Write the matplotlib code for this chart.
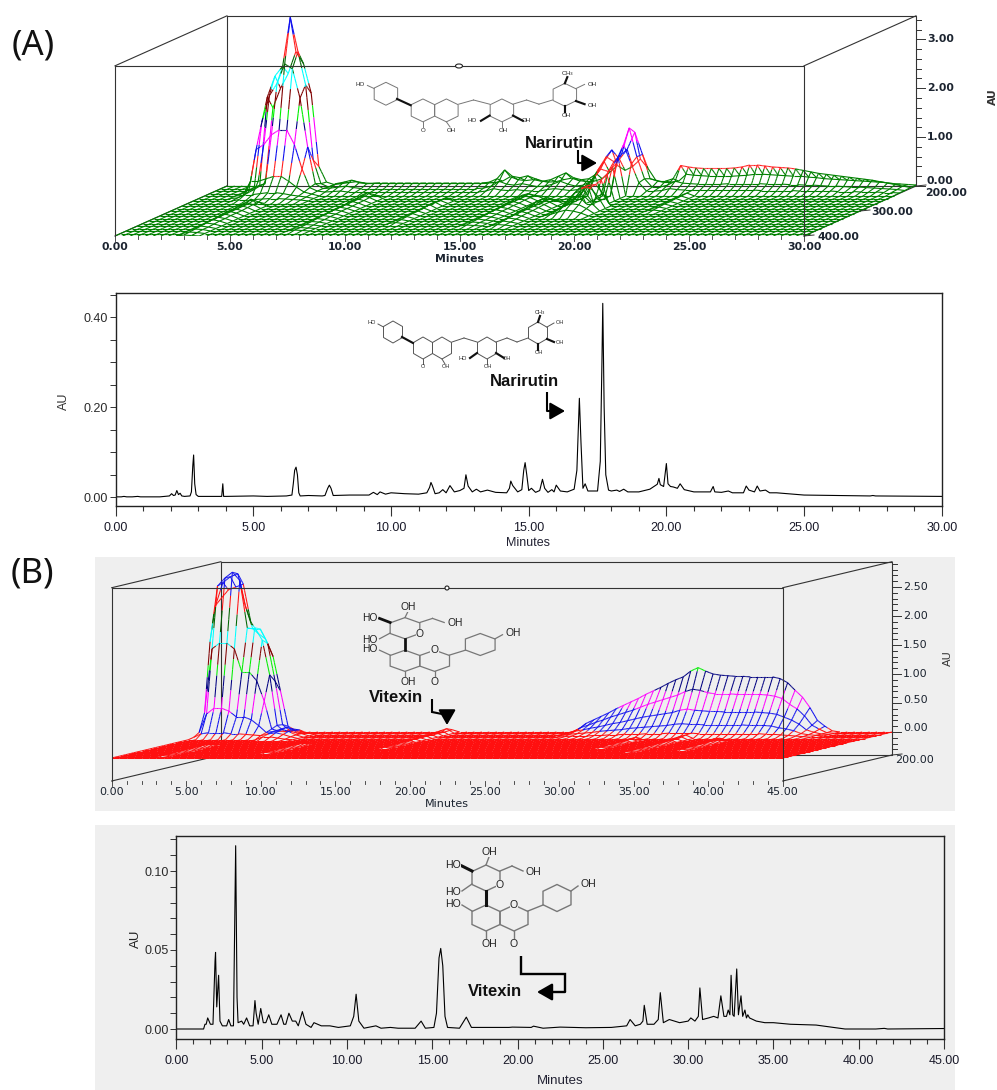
import numpy as np
import matplotlib
matplotlib.use('Agg')
import matplotlib.pyplot as plt
from matplotlib.collections import LineCollection
from matplotlib.patches import Rectangle, Ellipse, Polygon
from matplotlib.ticker import MultipleLocator, FixedLocator, FuncFormatter

W, H = 997, 1090

# chromatogram (A), minutes / AU
a_time = [0, .2, .3, .4, .6, .8, .9, 1.0, 1.6, 1.95, 2.03, 2.1, 2.16, 2.22, 2.28, 2.34, 2.4, 2.5, 2.7, 2.75, 2.8, 2.83,
          2.87, 2.92, 3.0, 3.85, 3.89, 3.92, 4.0, 5.0, 5.5, 6.2, 6.4, 6.45, 6.5, 6.55, 6.6, 6.65, 6.7, 7.0, 7.5, 7.6, 7.7,
          7.76, 7.82, 7.9, 8.5, 9.2, 9.36, 9.5, 9.6, 9.8, 10.0, 10.5, 11.0, 11.3, 11.4, 11.45, 11.5, 11.6, 11.75, 11.88, 12.0,
          12.14, 12.3, 12.5, 12.65, 12.72, 12.8, 12.95, 13.1, 13.25, 13.5, 13.8, 14.2, 14.3, 14.35, 14.42, 14.6, 14.75, 14.82,
          14.87, 14.93, 15.0, 15.1, 15.25, 15.4, 15.5, 15.58, 15.7, 15.84, 15.92, 16.0, 16.15, 16.4, 16.65, 16.75, 16.84, 16.9,
          16.97, 17.05, 17.15, 17.5, 17.6, 17.66, 17.69, 17.74, 17.8, 17.9, 18.0, 18.2, 18.3, 18.45, 18.6, 19.0, 19.4, 19.67, 19.73,
          19.78, 19.9, 20.0, 20.06, 20.15, 20.25, 20.4, 20.5, 20.65, 21.0, 21.6, 21.7, 21.76, 22.0, 22.25, 22.4, 22.8, 22.9, 23.0,
          23.2, 23.3, 23.4, 23.6, 23.75, 24.0, 25.0, 27.4, 27.5, 27.6, 30.0]
a_au = [.001, .001, .002, .001, .001, .002, .001, .001, .001, .003, .008, .004, .005, .015, .006, .009, .003, .002, .003, .012, .07, .094,
        .03, .006, .002, .002, .03, .002, .002, .003, .002, .003, .005, .03, .06, .067, .05, .01, .003, .004, .003, .004, .02,
        .027, .02, .004, .005, .005, .011, .006, .012, .007, .01, .008, .007, .01, .022, .033, .026, .008, .01, .017, .01,
        .026, .012, .015, .02, .05, .025, .012, .018, .012, .016, .011, .01, .02, .036, .026, .012, .017, .06,
        .077, .05, .015, .02, .011, .015, .04, .02, .011, .017, .012, .027, .014, .012, .018, .06, .22, .12,
        .02, .03, .014, .014, .08, .3, .431, .2, .05, .016, .014, .016, .013, .018, .012, .012, .018, .029, .042,
        .028, .024, .075, .03, .024, .023, .02, .03, .017, .012, .012, .024, .012, .011, .014, .01, .01, .025, .016,
        .012, .025, .014, .016, .01, .01, .005, .003, .004, .003, .002]

# chromatogram (B), minutes / AU
b_time = [0, 1.6, 1.68, 1.75, 1.84, 2.0, 2.15, 2.27, 2.3, 2.37, 2.48, 2.56, 2.7, 2.95, 3.07, 3.2, 3.35, 3.41, 3.48, 3.56, 3.62, 3.83, 3.95,
          4.12, 4.3, 4.5, 4.61, 4.68, 4.8, 4.95, 5.1, 5.25, 5.42, 5.6, 5.9, 6.14, 6.3, 6.42, 6.6, 6.8, 7.0, 7.15, 7.39, 7.6, 7.9, 8.07,
          8.5, 9.0, 9.5, 10.2, 10.4, 10.54, 10.7, 11.0, 11.7, 12.0, 12.55, 13.0, 14.0, 14.35, 14.6, 15.1, 15.25, 15.4, 15.5, 15.62,
          15.75, 15.9, 16.6, 17.0, 17.3, 18.5, 19.5, 19.7, 20.8, 20.94, 21.5, 22.5, 24.0, 25.5, 26.4, 26.6, 26.9, 27.2, 27.35, 27.43,
          27.6, 28.0, 28.25, 28.37, 28.55, 28.9, 29.5, 30.0, 30.16, 30.4, 30.6, 30.69, 30.85, 31.2, 31.5, 31.75, 31.92, 32.1, 32.25,
          32.35, 32.45, 32.52, 32.62, 32.7, 32.85, 32.95, 33.1, 33.2, 33.33, 33.42, 33.5, 33.6, 33.8, 34.0, 34.5, 35.0, 36.0, 37.5, 38.5,
          39.2, 41.0, 41.5, 41.7, 45.0]
b_au = [0, 0, .003, .003, .007, .003, .003, .043, .0485, .014, .034, .005, .002, .002, .006, .002, .002, .055, .116, .02, .004, .005, .003,
        .007, .002, .002, .018, .01, .003, .013, .004, .004, .009, .003, .003, .009, .003, .003, .01, .005, .005, .002, .011, .003, .001, .004,
        .002, .002, .001, .002, .008, .022, .005, .0005, .002, .0005, .001, .0005, .0005, .005, .0005, .001, .01, .045, .051, .04,
        .008, .001, .0005, .0075, .001, .001, .001, .0012, .001, .0018, .0005, .0012, .0008, .001, .002, .006, .002, .003, .005, .015,
        .003, .003, .006, .023, .004, .006, .004, .005, .007, .005, .008, .026, .006, .007, .008, .007, .021, .008, .008,
        .012, .009, .034, .009, .008, .038, .009, .021, .008, .012, .007, .009, .007, .006, .005, .004, .004, .003, .0025, .001,
        0, 0, .0004, 0, .0003]

# surface (A): wavelengths back to front, 90 time steps over 30 min
a_wave = [200, 210, 220, 230, 240, 250, 260, 270, 280, 290, 300, 310, 320, 330, 340, 350, 360, 370, 380, 390, 400]
a_minutes = [k / 3 for k in range(91)]
a_row0 = [0] * 14 + [.03, .05, .07, .09, .06, .05] + [.06] * 15 + [.07, .1, .19, .13, .11, .13, .1, .08, .09, .13, .16, .11, .09, .1, .15, .28, .42, .32, .4, .55, .36, .12, .08, .08, .1, .24, .22, .21,
                                                                   .2, .2, .2, .2, .21, .22, .24, .24, .23, .22, .21, .2, .2, .18, .17, .15, .14, .13, .12, .11, .1, .09, .08, .07, .05, .04, .03, .02, .02, .01]
a_row1 = [0] * 14 + [.06, .1, .13, .17, .12, .1] + [.11] * 15 + [.13, .2, .38, .25, .22, .26, .2, .15, .18, .25, .32, .22, .18, .2, .3, .55, .79, .6, .8, 1.15, .7, .2, .15, .15, .2, .47, .44, .42,
                                                                 .41, .41, .41, .41, .42, .44, .48, .48, .46, .44, .43, .42, .4, .37, .34, .31, .29, .27, .25, .23, .21, .19, .17, .14, .11, .08, .05, .02]
a_row2 = [0] * 14 + [.04, .06, .08, .1, .07, .05] + [.05] * 15 + [.06, .1, .2, .14, .12, .15, .12, .09, .1, .14, .2, .14, .1, .12, .2, .45, .7, .6, .75, 1.29, .7, .25, .08, .08, .12, .2, .16, .15,
                                                                  .14, .14, .14, .14, .15, .15, .15, .15, .15, .14, .14, .14, .13, .13, .12, .12, .11, .1, .1, .09, .08, .08, .07, .06, .05, .04, .03, .01]
a_row3 = [0] * 14 + [.02, .03, .04, .05, .03, .03] + [.03] * 15 + [.03, .05, .1, .07, .06, .08, .06, .05, .05, .08, .1, .08, .06, .08, .15, .3, .5, .45, .6, 1.0, .6, .22, .05, .05, .06, .1, .08, .07,
                                                                  .07, .07, .07, .07, .07, .07, .07, .07, .07, .06, .06, .06, .06, .06, .05, .05, .05, .05, .05, .04, .04, .04, .03, .03, .03, .02, .02, .01]
# (first row, first column, values)
a_patches = [
    (0, 5, [[.05, 1.6, 2.0, 2.3, 2.75, 2.5, 1.9, .4, .08, .03],
            [.05, 1.87, 2.3, 2.5, 3.5, 2.8, 2.12, .58, .1, .03],
            [.03, 1.4, 1.95, 2.2, 2.6, 2.5, 1.9, .9, .15, .05],
            [.02, .9, 1.0, 1.2, 1.3, 1.3, 1.0, .5, .12, .05],
            [.01, .3, .3, .35, .4, .4, .3, .18, .08, .04],
            [.01, .08, .08, .1, .12, .12, .1, .07, .05, .03],
            [0, .03, .03, .03, .04, .05, .05, .04, .03, .02]]),
    (8, 52, [[.3, .42, .44, .25], [.32, .42, .43, .25], [.25, .3, .3, .15], [.15, .2, .18, .1], [.08, .12, .1, .06]]),
]
# (column, first row, values along the depth axis)
a_ridges = [
    (54, 4, [.8, .65, .55, .48]),
    (51, 4, [.4, .3, .22, .16, .12, .1, .08, .05, .03]),
    (9, 8, [.14, .12, .12, .1, .1, .1, .08, .08, .06, .05, .04, .03, .02]),
    (10, 8, [.08, .08, .07, .06, .06, .06, .05, .05, .04, .03, .03, .02, .01]),
    (22, 5, [.12, .12, .1, .1, .08, .08, .08, .06, .06, .05, .04, .03, .02, .02]),
    (23, 5, [.07, .07, .06, .06, .05, .05, .05, .04, .04, .03, .03, .02, .01, .01]),
    (33, 6, [.06, .06, .08, .08, .06, .05, .05, .04, .03, .02]),
    (43, 5, [.1, .12, .12, .1, .1, .08, .08, .06, .05, .04, .03, .02]),
    (44, 5, [.06, .07, .07, .06, .06, .05, .05, .04, .03, .02, .02, .01]),
    (47, 7, [.12, .14, .14, .12, .1, .1, .08, .06, .05, .03]),
    (48, 7, [.07, .08, .08, .07, .06, .06, .05, .04, .03, .02]),
    (63, 4, [.06, .05, .05, .04, .04, .03, .02]),
]
a_edges = [.4, .7, .95, 1.3, 1.46, 1.71, 2.08, 2.43, 2.69, 3.14]
a_colors = ['#008000', '#ff2020', '#1010ee', '#ff00ff', '#000080', '#00ee00', '#800000', '#00ffff', '#006400', '#ff2020', '#1010ee']

# surface (B): finer wavelength steps towards the front
b_wave = [200, 210, 220, 230, 240, 250, 260, 270, 280, 285, 290, 295, 300, 305, 310, 315, 320, 325, 330, 335, 340, 345, 350, 355, 360, 365,
          370, 375, 380, 385, 390, 395, 400]
b_minutes = [k / 2 for k in range(91)]
b_patches = [
    (0, 0, [[2.3, 2.45, 2.5, 2.55, 1.9, 1.7, 1.6, 1.3, .7, .1, .03],
            [2.2, 2.6, 2.7, 2.75, 2.2, 1.8, 1.8, 1.55, .9, .15, .04],
            [1.6, 2.56, 2.7, 2.8, 2.66, 1.84, 1.84, 1.63, 1.03, .16, .05],
            [.4, 1.5, 1.6, 1.6, 1.5, 1.1, 1.1, .95, .6, .12, .06],
            [.08, .4, .5, .5, .45, .35, .35, .3, .2, .08, .06],
            [.02, .08, .1, .1, .1, .08, .08, .07, .06, .05, .04]]),
    (2, 10, [[.05, .1, .08, .03], [.08, .15, .1, .04], [.1, .14, .1, .04], [.08, .1, .07, .03], [.05, .05, .03, .01]]),
    (0, 48, [[.05, .15, .21, .27, .33, .40, .46, .52, .58, .65, .71, .77, .84, .90, .95, 1.05, 1.11, 1.05, 1.0, .98, .97, .96, .96, .95, .95, .95, .95, .92, .85, .72, .6, .42, .2, .1, .02, 0],
             [.03, .1, .14, .19, .23, .28, .32, .36, .4, .45, .5, .54, .58, .62, .66, .72, .76, .74, .7, .68, .68, .68, .67, .67, .67, .67, .66, .64, .6, .5, .42, .3, .14, .07, .01, 0],
             [.02, .06, .08, .11, .13, .16, .19, .21, .24, .27, .3, .32, .34, .36, .38, .42, .44, .42, .41, .4, .4, .39, .39, .39, .39, .39, .38, .37, .35, .3, .25, .18, .08, .04, .01, 0],
             [.01, .03, .04, .05, .06, .08, .09, .1, .11, .13, .14, .15, .16, .17, .18, .2, .21, .2, .2, .19, .19, .19, .19, .19, .19, .18, .18, .18, .17, .14, .12, .09, .04, .02, .01, 0],
             [0, .01, .02, .02, .02, .03, .03, .04, .04, .05, .05, .05, .06, .06, .06, .07, .07, .07, .07, .06, .06, .06, .06, .06, .06, .06, .06, .06, .05, .05, .04, .03, .02, .01, 0, 0]]),
]
b_ridges = [
    (31, 0, [.04, .08, .07, .06, .05, .05, .04, .04, .04, .04, .03, .03, .03, .03, .02, .02, .02, .02]),
    (6, 12, [.05, .05, .05, .05, .05, .04, .04, .04, .04, .04, .03, .03, .03, .03, .02, .02, .02, .02, .02]),
    (18, 10, [.04, .05, .05, .05, .05, .04, .04, .04, .04, .03, .03, .03, .03, .02, .02, .02]),
    (66, 5, [.06, .06, .05, .05, .05, .05, .05, .04, .04, .04, .04, .04, .03, .03, .03, .03, .03, .02, .02, .02]),
    (60, 6, [.04, .04, .04, .04, .03, .03, .03, .03, .03, .02, .02, .02]),
    (72, 7, [.05, .06, .05, .05, .04, .04, .04, .04, .03, .03, .03, .03, .02, .02]),
]
b_edges = [.08, .42, .72, 1.05, 1.3, 1.55, 1.85, 2.15, 2.5]
b_colors = ['#ff1010', '#1010ee', '#ff00ff', '#000080', '#00ee00', '#800000', '#00ffff', '#006400', '#ff1010', '#1010ee']

# structure sketches, pixel layout of the 2D panels
nar_rings = [(393, 332, 9.5, 11), (423, 348, 9.5, 11), (442, 348, 9.5, 11), (487, 348, 9.5, 11), (538, 333, 9.5, 11)]
nar_bonds = [(383.5, 327, 378, 324), (452, 342, 464, 338), (464, 338, 477, 342), (496, 342, 507, 338), (507, 338, 517, 342), (517, 342, 528, 338),
             (442, 359, 445, 364), (423, 359, 423, 364), (487, 359, 487, 364), (547, 327, 554, 323)]
nar_wedges = [(402, 337, 413, 343), (477, 353, 470, 358), (496, 353, 504, 358), (547, 339, 554, 342), (538, 344, 538, 350), (538, 322, 540, 316)]
nar_labels = [(372, 323, 'HO'), (423, 367, 'O'), (446, 367, 'OH'), (463, 358, 'HO'), (488, 367, 'OH'), (507, 358, 'OH'),
              (539, 353, 'OH'), (560, 343, 'OH'), (560, 323, 'OH'), (540, 313, 'CH$_3$')]
vit_rings = [(486, 878, 14, 13), (486, 918, 14, 13), (514, 918, 14, 13), (557, 898, 14, 13.5)]
vit_bonds = [(486, 865, 489, 857), (500, 871, 512, 866), (512, 866, 523, 871), (472, 884, 462, 891), (472, 911, 462, 905), (486, 931, 486, 938),
             (514, 931, 514, 938), (528, 911, 543, 905), (571, 891, 578, 886)]
vit_wedges = [(486, 891, 486, 905), (472, 871, 462, 866)]
vit_labels = [(489, 852, 'OH'), (453, 865, 'HO'), (533, 872, 'OH'), (453, 892, 'HO'), (453, 904, 'HO'), (489, 944, 'OH'), (514, 944, 'O'),
              (588, 884, 'OH'), (500, 885, 'O'), (514, 905, 'O')]

plt.rcParams['font.family'] = ['Liberation Sans', 'DejaVu Sans']
fig = plt.figure(figsize=(W / 100, H / 100), dpi=100, facecolor='white')


def px_axes(left, top, right, bottom, **kw):
    return fig.add_axes([left / W, 1 - bottom / H, (right - left) / W, (bottom - top) / H], **kw)


def build_surface(wave, minutes, patches, ridges, back_rows=()):
    z = np.zeros((len(wave), len(minutes)))
    for row, values in back_rows:
        z[row, :len(values)] = values[:len(minutes)]
    for row0, col0, block in patches:
        block = np.array(block)
        z[row0:row0 + block.shape[0], col0:col0 + block.shape[1]] = block
    for col, row0, values in ridges:
        z[row0:row0 + len(values), col] = np.maximum(z[row0:row0 + len(values), col], values)
    return z


def draw_mesh(ax, wave, minutes, z, edges, colors, dt, dz, lw):
    n_rows, n_cols = z.shape
    t = np.array(minutes)
    d = (max(wave) - np.array(wave)) / (max(wave) - min(wave))
    segs, cols = [], []

    def add(t0, d0, z0, t1, d1, z1):
        parts = 6 if max(z0, z1) >= edges[0] else 1
        xs = np.linspace(t0 + d0 * dt, t1 + d1 * dt, parts + 1)
        ys = np.linspace(z0 + d0 * dz, z1 + d1 * dz, parts + 1)
        zs = np.linspace(z0, z1, parts + 1)
        for k in range(parts):
            segs.append([(xs[k], ys[k]), (xs[k + 1], ys[k + 1])])
            cols.append(colors[np.digitize(0.5 * (zs[k] + zs[k + 1]), edges)])

    for i in range(n_rows):
        for j in range(n_cols - 1):
            add(t[j], d[i], z[i, j], t[j + 1], d[i], z[i, j + 1])
        if i < n_rows - 1:
            for j in range(n_cols):
                add(t[j], d[i], z[i, j], t[j], d[i + 1], z[i + 1, j])
    ax.add_collection(LineCollection(segs, colors=cols, linewidths=lw, zorder=2))


def draw_cube(ax, t_max, dt, dz, z_bot, z_top, line='#333333'):
    kw = dict(color=line, lw=0.8, clip_on=False)
    # back plane and floor go behind the mesh
    ax.plot([dt, dt + t_max, dt + t_max, dt, dt], [z_bot + dz, z_bot + dz, z_top + dz, z_top + dz, z_bot + dz], zorder=1, **kw)
    ax.plot([0, dt], [z_bot, z_bot + dz], zorder=1, **kw)
    ax.plot([t_max, t_max + dt], [z_bot, z_bot + dz], zorder=1, **kw)
    ax.plot([0, dt], [z_top, z_top + dz], zorder=3, **kw)
    ax.plot([t_max, t_max + dt], [z_top, z_top + dz], zorder=3, **kw)
    # front frame stays on top
    ax.plot([0, 0, t_max, t_max], [z_bot, z_top, z_top, z_bot], zorder=3, **kw)
    ax.plot([0, t_max], [z_bot, z_bot], zorder=3, color=line, lw=0.6)


def draw_3d_axes(ax, t_max, dt, dz, z_bot, z_top, px_t, px_z, z_major, z_minor, z_labels, depth_ticks, font, label_y, au_x, au_y):
    for m in np.arange(0, t_max + 0.01, 1):
        size = 5 if m % 5 == 0 else 3
        ax.plot([m, m], [z_bot, z_bot - size / px_z], color='#333333', lw=0.6, clip_on=False, zorder=3)
    for m in np.arange(0, t_max + 0.01, 5):
        ax.text(m, z_bot - 11 / px_z, f'{m:.2f}', ha='center', va='center', color='#1c2430', **font)
    ax.text(t_max / 2, z_bot - label_y / px_z, 'Minutes', ha='center', va='center', color='#1c2430', **font)
    x_axis = t_max + dt
    for v in np.arange(z_minor * np.ceil(z_bot / z_minor), z_top + 0.001, z_minor):
        major = abs(v / z_major - round(v / z_major)) < 1e-6
        size = 9 if major else 5
        ax.plot([x_axis, x_axis + size / px_t], [v + dz, v + dz], color='#333333', lw=0.7, clip_on=False)
    for v, off in z_labels:
        ax.text(x_axis + 11 / px_t, v + dz + off / px_z, f'{v:.2f}', ha='left', va='center', color='#1c2430', **font)
    for frac, wl, xoff, yoff in depth_ticks:
        ax.plot([t_max + frac * dt, t_max + frac * dt + 10 / px_t], [z_bot + frac * dz, z_bot + frac * dz + 1 / px_z], color='#333333', lw=0.7, clip_on=False)
        ax.text(t_max + frac * dt + xoff / px_t, z_bot + frac * dz + yoff / px_z, f'{wl:.2f}', ha='left', va='center', color='#1c2430', **font)
    ax.text(au_x, au_y, 'AU', rotation=90, ha='center', va='center', color='#333333', clip_on=False, transform=overlay.transData, **font)


def draw_structure(ax, rings, bonds, wedges, labels, x0, y0, ox, oy, sx, sy, color, size, lw, bg):
    def mx(x):
        return ox + sx * (x - x0)

    def my(y):
        return oy + sy * (y - y0)

    for cx, cy, w, h in rings:
        xs = [cx, cx + w, cx + w, cx, cx - w, cx - w]
        ys = [cy - h, cy - h / 2, cy + h / 2, cy + h, cy + h / 2, cy - h / 2]
        ax.add_patch(Polygon(list(zip(mx(np.array(xs)), my(np.array(ys)))), closed=True, fill=False, ec=color, lw=lw, zorder=4))
    for x1, y1, x2, y2 in bonds:
        ax.plot([mx(x1), mx(x2)], [my(y1), my(y2)], color=color, lw=lw, zorder=4)
    for x1, y1, x2, y2 in wedges:
        ax.plot([mx(x1), mx(x2)], [my(y1), my(y2)], color='#111111', lw=lw * 2.2, zorder=4)
    for x, y, s in labels:
        ax.text(mx(x), my(y), s, ha='center', va='center', fontsize=size, color='#222222', zorder=5,
                bbox=dict(fc=bg, ec='none', pad=0.2))


def draw_arrow(ax, xs, ys, size=10, lw=1.5):
    ax.plot(xs[:-1], ys[:-1], color='black', lw=lw, solid_joinstyle='miter', solid_capstyle='butt', zorder=6)
    ax.annotate('', xy=(xs[-1], ys[-1]), xytext=(xs[-2], ys[-2]), zorder=6,
                arrowprops=dict(arrowstyle='-|>,head_length=0.7,head_width=0.4', color='black', lw=lw, shrinkA=0, shrinkB=0, mutation_scale=size * 1.3))


def style_2d(ax, x_max, y_step, y_show, label_size, tick_color, lw_frame):
    ax.set_xlim(0, x_max)
    ax.xaxis.set_major_locator(MultipleLocator(5))
    ax.xaxis.set_minor_locator(MultipleLocator(1))
    ax.xaxis.set_major_formatter(FuncFormatter(lambda v, p: f'{v:.2f}'))
    ax.yaxis.set_major_locator(FixedLocator(y_show))
    ax.yaxis.set_minor_locator(MultipleLocator(y_step))
    ax.yaxis.set_major_formatter(FuncFormatter(lambda v, p: f'{v:.2f}'))
    ax.tick_params(axis='x', which='major', length=7.5, width=0.8, color=tick_color, labelsize=label_size, pad=4, labelcolor='#1a1a2a')
    ax.tick_params(axis='x', which='minor', length=3.5, width=0.8, color=tick_color)
    ax.tick_params(axis='y', which='both', length=4, width=0.7, color=tick_color, labelsize=label_size, pad=1.5, labelcolor='#2a2a2a')
    for s in ax.spines.values():
        s.set_linewidth(lw_frame)
        s.set_color('#222222')


# full figure layer in pixel units, for backgrounds and annotations
backing = fig.add_axes([0, 0, 1, 1], zorder=0)
backing.set_xlim(0, W)
backing.set_ylim(H, 0)
backing.axis('off')
backing.add_patch(Rectangle((95, 557), 860, 254, fc='#efefef', ec='none'))
backing.add_patch(Rectangle((95, 825), 860, 265, fc='#efefef', ec='none'))

overlay = fig.add_axes([0, 0, 1, 1], zorder=5)
overlay.set_xlim(0, W)
overlay.set_ylim(H, 0)
overlay.axis('off')
overlay.patch.set_alpha(0)

# ---- (A) 3D
px_t_a, px_z_a = 22.97, 48.9
dt_a, dz_a = 112 / px_t_a, 50 / px_z_a
ax3a = px_axes(115, 15, 916, 236, zorder=2)
ax3a.set_xlim(0, 30 + dt_a)
ax3a.set_ylim(0, (236 - 15) / px_z_a)
ax3a.axis('off')
ax3a.patch.set_alpha(0)
za = build_surface(a_wave, a_minutes, a_patches, a_ridges,
                   [(0, a_row0), (1, a_row1), (2, a_row2), (3, a_row3)])
draw_cube(ax3a, 30, dt_a, dz_a, 0, 3.48)
draw_mesh(ax3a, a_wave, a_minutes, za, a_edges, a_colors, dt_a, dz_a, 0.8)
draw_3d_axes(ax3a, 30, dt_a, dz_a, 0, 3.48, px_t_a, px_z_a, 1.0, 0.2,
             [(0, 5.5), (1, 0), (2, 0), (3, 0)],
             [(1, 200, 9, -7), (0.5, 300, 11, -1), (0, 400, 13, -1)],
             dict(fontsize=7.8, family='DejaVu Sans', fontweight='bold'), 23, 993, 97)
overlay.add_patch(Ellipse((459, 66), 7, 4, fc='white', ec='#222222', lw=0.8))

# ---- (A) 2D
ax2a = px_axes(115.7, 293, 941.7, 506, zorder=2)
ax2a.plot(a_time, a_au, color='black', lw=0.8)
style_2d(ax2a, 30, 0.05, [0, .2, .4], 9, '#333333', 1.0)
ax2a.set_ylim(-8.7 / 450, 204.3 / 450)
overlay.text(528, 543, 'Minutes', ha='center', va='center', fontsize=9, color='#222233')
overlay.text(64, 401, 'AU', rotation=90, ha='center', va='center', fontsize=9, color='#333333')

# ---- (B) 3D
px_t_b, px_z_b = 14.92, 58.0
dt_b, dz_b = 109.3 / px_t_b, 26 / px_z_b
z_bot_b = -23 / px_z_b
ax3b = px_axes(111.7, 563, 892, 781, zorder=2)
ax3b.set_xlim(0, 45 + dt_b)
ax3b.set_ylim(z_bot_b, (758 - 563) / px_z_b)
ax3b.axis('off')
ax3b.patch.set_alpha(0)
zb = build_surface(b_wave, b_minutes, b_patches, b_ridges)
draw_cube(ax3b, 45, dt_b, dz_b, z_bot_b, 2.936)
draw_mesh(ax3b, b_wave, b_minutes, zb, b_edges, b_colors, dt_b, dz_b, 0.75)
draw_3d_axes(ax3b, 45, dt_b, dz_b, z_bot_b, 2.936, px_t_b, px_z_b, 0.5, 0.1,
             [(0, 4), (.5, 3), (1, 0), (1.5, 0), (2, 0), (2.5, 0)],
             [(1, 200, 3, -5)],
             dict(fontsize=8, family='DejaVu Sans'), 23, 948, 658)
overlay.add_patch(Ellipse((447, 588), 4, 4, fc='white', ec='#222222', lw=0.8))

# ---- (B) 2D
ax2b = px_axes(176.3, 835.7, 944, 1038.7, zorder=2)
ax2b.patch.set_alpha(0)
ax2b.plot(b_time, b_au, color='black', lw=0.8)
style_2d(ax2b, 45, 0.01, [0, .05, .1], 9, '#333333', 1.0)
ax2b.set_ylim(-9.7 / 1580, 193.3 / 1580)
overlay.text(560, 1081, 'Minutes', ha='center', va='center', fontsize=9.5, color='#222233')
overlay.text(136, 939, 'AU', rotation=90, ha='center', va='center', fontsize=9.5, color='#222222')

# ---- structures, names and arrows
draw_structure(overlay, nar_rings, nar_bonds, nar_wedges, nar_labels, 372, 313, 360, 74, 1.234, 1.04, '#777777', 4.4, 0.7, 'none')
draw_structure(overlay, nar_rings, nar_bonds, nar_wedges, nar_labels, 372, 313, 372, 313, 1.0, 1.0, '#555555', 4.0, 0.7, 'none')
draw_structure(overlay, vit_rings, vit_bonds, vit_wedges, vit_labels, 453, 852, 370, 607, 1.06, 0.815, '#777777', 7.4, 0.9, '#efefef')
draw_structure(overlay, vit_rings, vit_bonds, vit_wedges, vit_labels, 453, 852, 453, 852, 1.0, 1.0, '#777777', 7.6, 1.0, '#efefef')

name_font = dict(fontsize=12, fontweight='bold', color='#111111', ha='center', va='center')
overlay.text(559.5, 143, 'Narirutin', **name_font)
overlay.text(524.5, 382, 'Narirutin', **name_font)
overlay.text(396, 698, 'Vitexin', **name_font)
overlay.text(495, 992, 'Vitexin', **name_font)
draw_arrow(overlay, [578, 578, 597], [150, 163, 163])
draw_arrow(overlay, [547, 547, 565], [392, 411, 411])
draw_arrow(overlay, [432, 432, 447, 447], [699, 712, 715, 725])
draw_arrow(overlay, [521, 521, 565, 565, 537], [956, 974, 974, 992, 992], lw=1.7)

overlay.text(33, 45, '(A)', ha='center', va='center', fontsize=25, family='Noto Sans', color='#111111')
overlay.text(32, 574, '(B)', ha='center', va='center', fontsize=25, family='Noto Sans', color='#111111')

fig.savefig('out.png', dpi=100)
